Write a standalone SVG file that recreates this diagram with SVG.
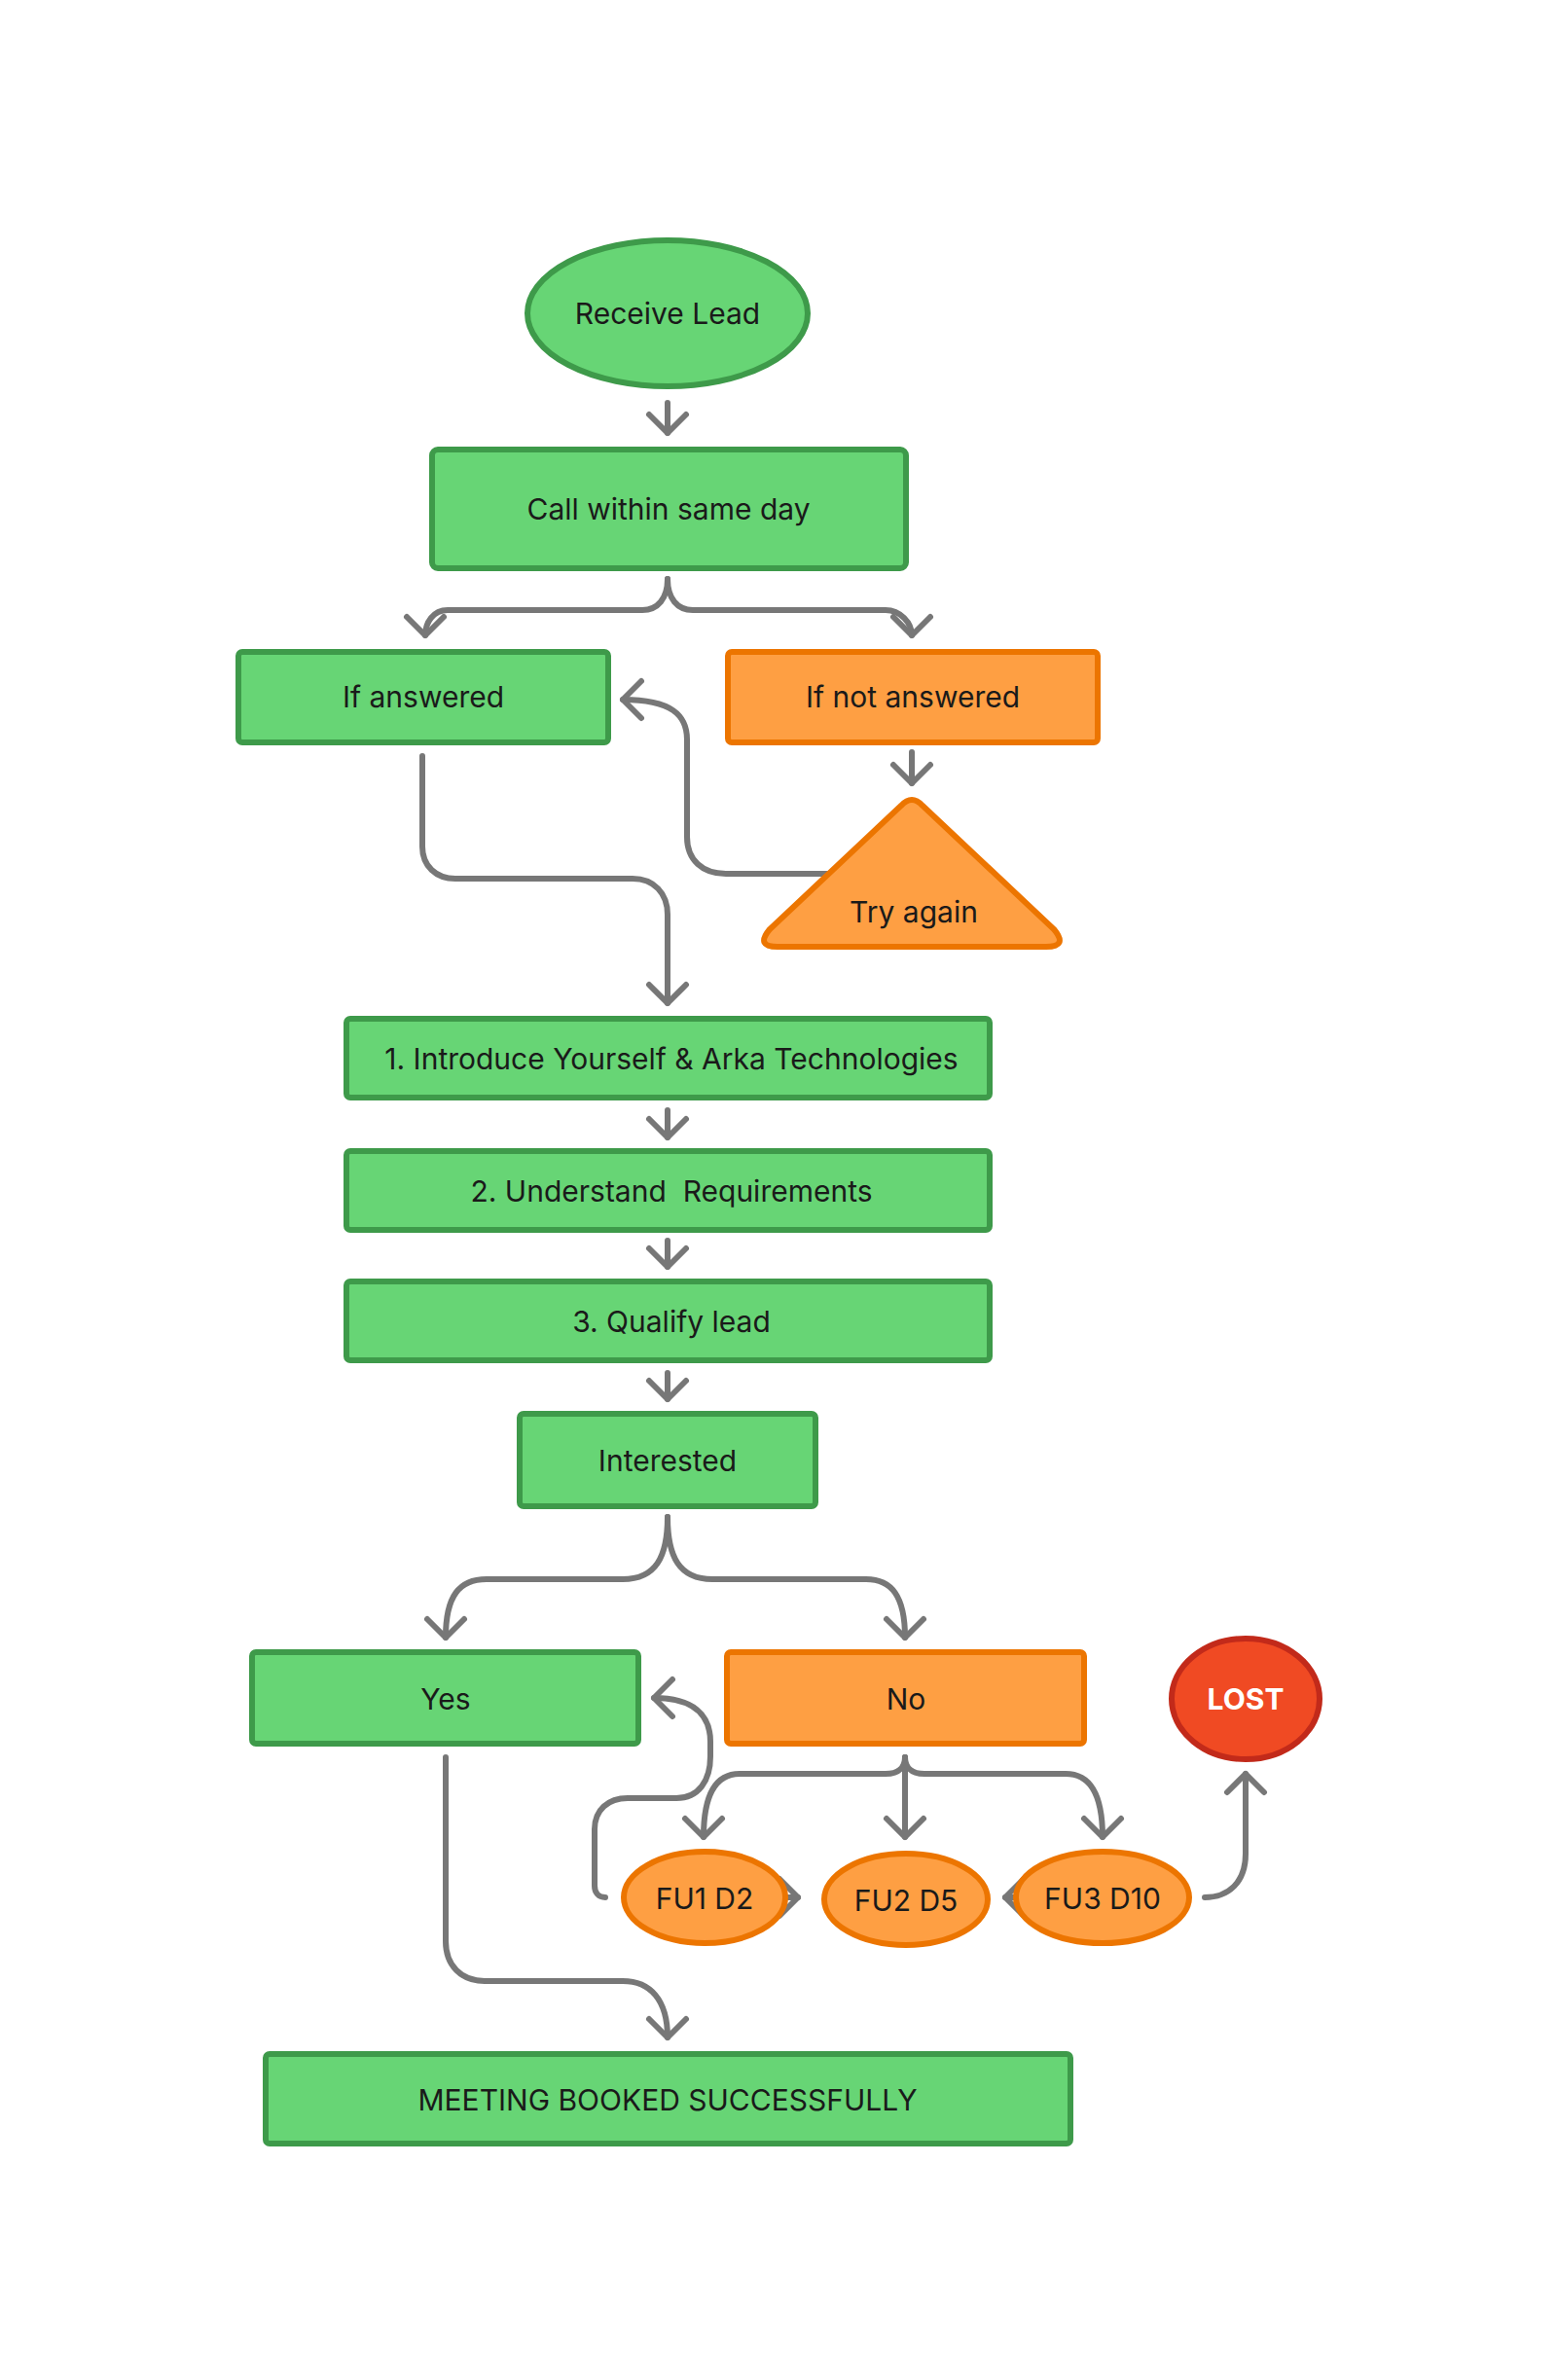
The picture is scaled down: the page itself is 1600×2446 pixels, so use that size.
<svg xmlns="http://www.w3.org/2000/svg" width="1600" height="2446" viewBox="0 0 1600 2446">
<defs>
<marker id="ah" markerUnits="userSpaceOnUse" markerWidth="60" markerHeight="60" viewBox="-30 -30 60 60" refX="0" refY="0" orient="auto" overflow="visible">
<path d="M-19,-19 L0,0 L-19,19" fill="none" stroke="#777" stroke-width="6" stroke-linecap="round" stroke-linejoin="round"/>
</marker>
</defs>
<style>
text{font-family:Inter,"Noto Sans","Liberation Sans",sans-serif;font-size:30px;fill:#1a1a1a;text-anchor:middle;dominant-baseline:central}
.g{fill:#67d575;stroke:#3e9a4a;stroke-width:6}
.o{fill:#fe9f43;stroke:#ec7500;stroke-width:6}
.c path{fill:none;stroke:#777;stroke-width:6;stroke-linecap:round;stroke-linejoin:round;marker-end:url(#ah)}
</style>
<rect width="1600" height="2446" fill="#fff"/>
<g class="c" id="connectors">
<path d="M686,414 L686,445"/>
<path d="M686,595 C686,615 676,627 660,627 L460,627 C445,627 437,640 437,653"/>
<path d="M686,595 C686,615 696,627 712,627 L910,627 C925,627 937,640 937,653"/>
<path d="M937,773 L937,805"/>
<path d="M852,898 L746,898 C722,898 706,884 706,860 L706,760 C706,735 690,719 640,719"/>
<path d="M434,777 L434,870 C434,890 448,903 468,903 L650,903 C672,903 686,918 686,940 L686,1031"/>
<path d="M686,1141 L686,1169"/>
<path d="M686,1275 L686,1302"/>
<path d="M686,1411 L686,1438"/>
<path d="M686,1559 C686,1600 674,1623 640,1623 L500,1623 C472,1623 458,1640 458,1683"/>
<path d="M686,1559 C686,1600 698,1623 732,1623 L890,1623 C916,1623 930,1640 930,1683"/>
<path d="M930,1806 C930,1815 925,1823 910,1823 L760,1823 C738,1823 723,1840 723,1888"/>
<path d="M930,1806 L930,1888"/>
<path d="M930,1806 C930,1815 935,1823 950,1823 L1095,1823 C1118,1823 1133,1840 1133,1888"/>
<path d="M807,1950 L820,1950"/>
<path d="M1047,1950 L1033,1950"/>
<path d="M622,1950 C615,1950 611,1945 611,1938 L611,1880 C611,1860 625,1848 645,1848 L695,1848 C718,1848 730,1830 730,1805 L730,1790 C730,1762 712,1745 672,1745"/>
<path d="M1238,1950 C1262,1950 1280,1935 1280,1905 L1280,1823"/>
<path d="M458,1806 L458,1995 C458,2020 474,2036 498,2036 L640,2036 C668,2036 686,2055 686,2094"/>
</g>
<g id="receive-lead"><ellipse class="g" cx="686" cy="322" rx="144" ry="75"/><text x="686" y="322">Receive Lead</text></g>
<g id="call"><rect class="g" x="444" y="462" width="487" height="122" rx="6"/><text x="687" y="523">Call within same day</text></g>
<g id="if-answered"><rect class="g" x="245" y="670" width="380" height="93" rx="4"/><text x="435" y="716">If answered</text></g>
<g id="if-not-answered"><rect class="o" x="748" y="670" width="380" height="93" rx="4"/><text x="938" y="716">If not answered</text></g>
<g id="try-again"><path class="o" d="M926,828 Q937,816 948,828 L1083,955 Q1098,973 1075,973 L799,973 Q776,973 791,955 Z"/><text x="939" y="937">Try again</text></g>
<g id="step1"><rect class="g" x="356" y="1047" width="661" height="81" rx="4"/><text x="690" y="1088">1. Introduce Yourself &amp; Arka Technologies</text></g>
<g id="step2"><rect class="g" x="356" y="1183" width="661" height="81" rx="4"/><text x="690" y="1224" xml:space="preserve">2. Understand  Requirements</text></g>
<g id="step3"><rect class="g" x="356" y="1317" width="661" height="81" rx="4"/><text x="690" y="1358">3. Qualify lead</text></g>
<g id="interested"><rect class="g" x="534" y="1453" width="304" height="95" rx="4"/><text x="686" y="1501">Interested</text></g>
<g id="yes"><rect class="g" x="259" y="1698" width="397" height="94" rx="4"/><text x="458" y="1746">Yes</text></g>
<g id="no"><rect class="o" x="747" y="1698" width="367" height="94" rx="4"/><text x="931" y="1746">No</text></g>
<g id="lost"><ellipse cx="1280" cy="1746" rx="76" ry="62" fill="#f04a23" stroke="#c22a1a" stroke-width="6"/><text x="1280" y="1746" style="fill:#fff;font-weight:bold">LOST</text></g>
<g id="fu1"><ellipse class="o" cx="724" cy="1950" rx="83" ry="47"/><text x="724" y="1951">FU1 D2</text></g>
<g id="fu2"><ellipse class="o" cx="931" cy="1952" rx="84" ry="47"/><text x="931" y="1953">FU2 D5</text></g>
<g id="fu3"><ellipse class="o" cx="1133" cy="1950" rx="89" ry="47"/><text x="1133" y="1951">FU3 D10</text></g>
<g id="meeting"><rect class="g" x="273" y="2111" width="827" height="92" rx="4"/><text x="686" y="2158">MEETING BOOKED SUCCESSFULLY</text></g>
</svg>
